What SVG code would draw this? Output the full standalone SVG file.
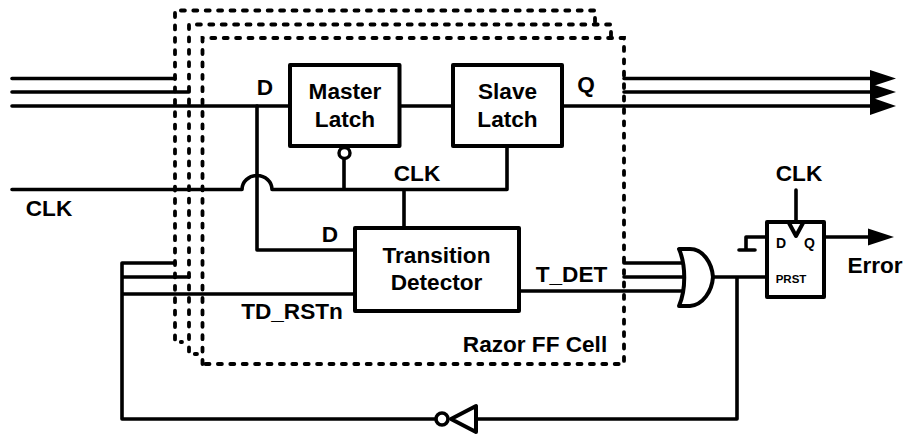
<svg xmlns="http://www.w3.org/2000/svg" width="904" height="434" viewBox="0 0 904 434">
<style>
.w{fill:none;stroke:#000;stroke-width:3.6;stroke-linecap:round;stroke-linejoin:round}
.t{stroke-width:4}
.b{fill:#fff;stroke:#000;stroke-width:4;stroke-linejoin:round}
.d{fill:none;stroke:#000;stroke-width:3.800;stroke-dasharray:4 8.400;stroke-linecap:round}
text{font-family:"Liberation Sans",Arial,sans-serif;font-weight:700;font-size:22.600px;fill:#000;text-anchor:middle}
.a{fill:#000;stroke:none}
</style>
<g id="connectors">
<path class="w" d="M12 78.500H175M12 92H189M12 106H290M399 106H453M562 106H870M624 78.500H870M624 92H870"/>
<path class="w" d="M257 106V250H355M12 189.500H242A15 14 0 0 1 272 189.500H507V146M344 189.500V158M404 189.500V228"/>
<path class="w" d="M175 263H122M189 277H122M122 263V419H438M476 419H737V277M122 294H355M519 291H684M624 263H684M624 277H684M713 277H767"/>
<path class="w" d="M796 190V222M767 237H746V250M739 250H755M824 237H868"/>
<polygon class="a" points="870,70 896,78.500 870,87"/>
<polygon class="a" points="870,83.500 896,92 870,100.500"/>
<polygon class="a" points="870,97 896,106 870,115"/>
<polygon class="a" points="868,228.500 894,237 868,245.500"/>
</g>
<g id="razor-cell-back-1"><path class="d" d="M595 22V10.500H175V342H182"/></g>
<g id="razor-cell-back-2"><path class="d" d="M611 36V24.500H189V354H197"/></g>
<g id="razor-cell"><path class="d" d="M202.500 364V38H624V364Z"/><text x="535" y="352">Razor FF Cell</text></g>
<g id="master-latch"><rect class="b" x="290" y="65" width="109.500" height="81"/><text x="345" y="98.500">Master</text><text x="345" y="126.500">Latch</text><circle cx="344.500" cy="153" r="5.500" fill="#fff" stroke="#000" stroke-width="3.400"/></g>
<g id="slave-latch"><rect class="b" x="453" y="65" width="109" height="81"/><text x="507.500" y="98.500">Slave</text><text x="507.500" y="126.500">Latch</text></g>
<g id="transition-detector"><rect class="b" x="355" y="228" width="164" height="83"/><text x="436.500" y="262.500">Transition</text><text x="436.500" y="289.500">Detector</text></g>
<g id="or-gate"><path class="b" d="M679 249H690C703 249 712 263 713 277C712 291 703 305 690 306H679C686 290 686 265 679 249Z"/></g>
<g id="flip-flop"><rect class="b" x="767" y="222" width="57" height="75"/><path class="w t" d="M789 223L796 236L803 223"/>
<text x="781" y="248" style="font-size:14px">D</text><text x="809.500" y="248" style="font-size:14px">Q</text><text x="791" y="283" style="font-size:11.500px">PRST</text></g>
<g id="inverter"><path class="b" d="M476 406V432L451 419Z"/><circle cx="442" cy="419" r="6" fill="#fff" stroke="#000" stroke-width="3.600"/></g>
<g id="labels">
<text x="265" y="95">D</text><text x="586" y="92">Q</text><text x="49" y="216">CLK</text><text x="417" y="181">CLK</text>
<text x="330" y="242">D</text><text x="292" y="319">TD_RSTn</text><text x="571.500" y="282">T_DET</text>
<text x="799" y="181">CLK</text><text x="875" y="273">Error</text>
</g>
</svg>
